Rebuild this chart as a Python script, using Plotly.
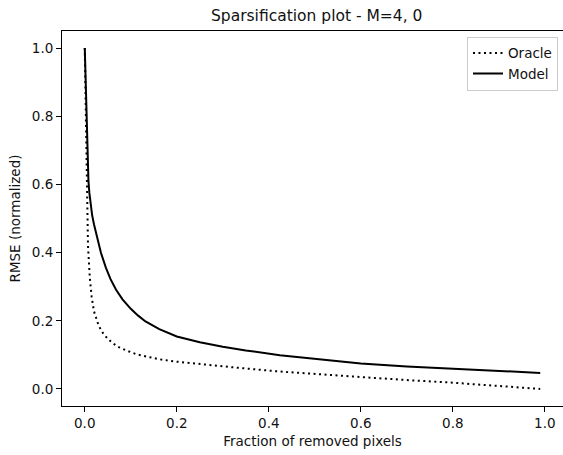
import plotly.graph_objects as go

# Data
oracle_x = [0.0, 0.002, 0.004, 0.007, 0.011, 0.015, 0.02, 0.025, 0.03, 0.04, 0.05, 0.062,
            0.075, 0.09, 0.11, 0.134, 0.163, 0.2, 0.25, 0.326, 0.424, 0.522, 0.62, 0.7,
            0.793, 0.9, 0.99]
oracle_y = [1.0, 0.82, 0.61, 0.42, 0.325, 0.27, 0.228, 0.203, 0.186, 0.163, 0.147, 0.133,
            0.122, 0.113, 0.103, 0.095, 0.087, 0.080, 0.073, 0.063, 0.051, 0.042, 0.032, 0.026,
            0.019, 0.009, 0.0]

model_x = [0.0, 0.003, 0.006, 0.008, 0.01, 0.013, 0.016, 0.02, 0.027, 0.035, 0.046, 0.056,
           0.068, 0.082, 0.1, 0.116, 0.132, 0.162, 0.2, 0.25, 0.3, 0.35, 0.424, 0.5, 0.6,
           0.7, 0.8, 0.9, 0.99]
model_y = [1.0, 0.82, 0.68, 0.61, 0.575, 0.54, 0.51, 0.483, 0.44, 0.40, 0.355, 0.322,
           0.291, 0.263, 0.235, 0.215, 0.198, 0.1755, 0.154, 0.137, 0.124, 0.113, 0.099, 0.088,
           0.075, 0.066, 0.060, 0.053, 0.047]

tick_vals = [0.0, 0.2, 0.4, 0.6, 0.8, 1.0]
tick_text = ["0.0", "0.2", "0.4", "0.6", "0.8", "1.0"]

FONT = "DejaVu Sans"

fig = go.Figure()
fig.add_trace(go.Scatter(x=oracle_x, y=oracle_y, mode="lines", name="Oracle",
                         line=dict(color="black", width=2, dash="2px,3.5px")))
fig.add_trace(go.Scatter(x=model_x, y=model_y, mode="lines", name="Model",
                         line=dict(color="black", width=2)))

axis_common = dict(showline=True, linecolor="black", linewidth=1, mirror=True,
                   ticks="outside", ticklen=5, tickwidth=1, tickcolor="black",
                   showgrid=False, zeroline=False,
                   tickfont=dict(family=FONT, size=13.5, color="#111"),
                   tickvals=tick_vals, ticktext=tick_text)

fig.update_layout(
    width=563, height=455,
    margin=dict(l=62, r=0, t=31, b=49),
    paper_bgcolor="white", plot_bgcolor="white",
    font=dict(family=FONT, color="#111"),
    title=dict(text="Sparsification plot - M=4, 0", x=0.5625, xanchor="center",
               y=1 - 16 / 455, yanchor="middle",
               font=dict(family=FONT, size=15.5, color="#111")),
    xaxis=dict(range=[-0.0495, 1.0395],
               title=dict(text="Fraction of removed pixels", standoff=6,
                          font=dict(family=FONT, size=13.5, color="#111")),
               **axis_common),
    yaxis=dict(range=[-0.05, 1.05],
               title=dict(text="RMSE (normalized)", standoff=8,
                          font=dict(family=FONT, size=13.5, color="#111")),
               **axis_common),
    legend=dict(x=0.99, xanchor="right", y=0.985, yanchor="top",
                bgcolor="rgba(255,255,255,0.8)", bordercolor="#cccccc", borderwidth=1,
                font=dict(family=FONT, size=13.5, color="#111"),
                itemwidth=30, tracegroupgap=0),
    showlegend=True,
)

fig.write_html("out.html")
